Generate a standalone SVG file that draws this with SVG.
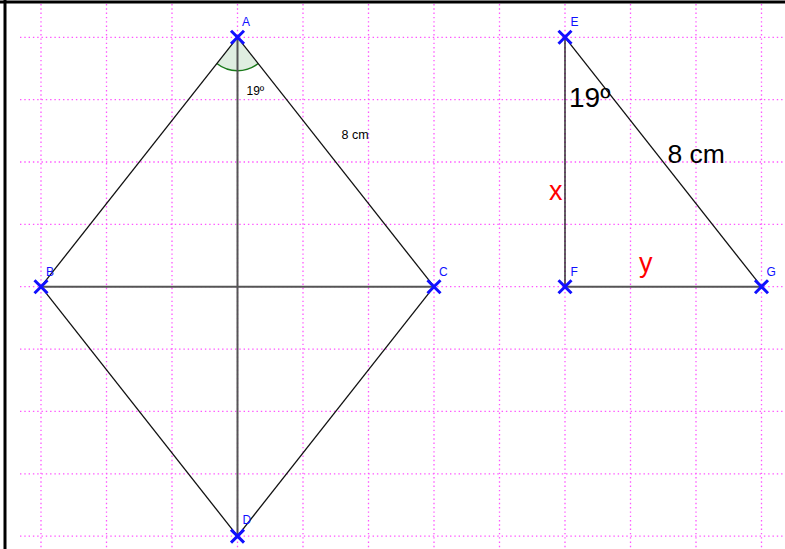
<svg xmlns="http://www.w3.org/2000/svg" width="785" height="549" viewBox="0 0 785 549">
<style>
.g{stroke:#ff55ff;stroke-width:1.3;stroke-dasharray:1.4 2.9;fill:none}
.s{stroke:#111;stroke-width:1.3;fill:none}
.m{stroke:#555;stroke-width:2;fill:none}
.x{stroke:#1010ff;stroke-width:3;fill:none}
.lb{font-family:"Liberation Sans",Arial,sans-serif;font-size:12px;fill:#1010ff}
.t{font-family:"Liberation Sans",Arial,sans-serif;fill:#000}
.r{font-family:"Liberation Sans",Arial,sans-serif;fill:#ff0000;font-size:27px}
</style>
<defs>
<path id="cx" class="x" d="M-6.5,-6.5L6.5,6.5M-6.5,6.5L6.5,-6.5"/>
</defs>
<rect x="0" y="0" width="785" height="549" fill="#fff"/>
<g id="grid">
<path class="g" d="M41,4V549M106.5,4V549M172,4V549M237.5,4V549M303,4V549M368.5,4V549M434,4V549M499.5,4V549M565,4V549M630.5,4V549M696,4V549M761.5,4V549"/>
<path class="g" d="M20,37.3H785M20,99.7H785M20,162H785M20,224.4H785M20,286.7H785M20,349.1H785M20,411.4H785M20,473.8H785M20,536.1H785"/>
</g>
<g id="frame">
<path d="M5,0V549" stroke="#000" stroke-width="3"/>
<path d="M0,2H785" stroke="#000" stroke-width="3"/>
</g>
<g id="angle">
<path d="M237.5,37.3L216.8,63.5A33.4,33.4 0 0 0 258.2,63.5Z" fill="#dfeee0" stroke="none"/>
<path d="M216.8,63.5A33.4,33.4 0 0 0 258.2,63.5" fill="none" stroke="#1a7a1a" stroke-width="1.5"/>
</g>
<g id="connectors">
<path class="s" d="M237.5,37.3L41,286.7"/>
<path class="s" d="M237.5,37.3L434,286.7"/>
<path class="s" d="M41,286.7L237.5,536.1"/>
<path class="s" d="M434,286.7L237.5,536.1"/>
<path class="m" d="M237.5,37.3V536.1"/>
<path class="m" d="M41,286.7H434"/>
<path class="s" d="M565,37.3V286.7"/>
<path class="m" d="M565,286.7H761.5"/>
<path class="s" d="M565,37.3L761.5,286.7"/>
</g>
<g id="A"><use href="#cx" x="237.5" y="37.3"/><text class="lb" x="242" y="26">A</text></g>
<g id="B"><use href="#cx" x="41" y="286.7"/><text class="lb" x="46" y="276">B</text></g>
<g id="C"><use href="#cx" x="434" y="286.7"/><text class="lb" x="439" y="276">C</text></g>
<g id="D"><use href="#cx" x="237.5" y="536.1"/><text class="lb" x="242.5" y="524">D</text></g>
<g id="E"><use href="#cx" x="565" y="37.3"/><text class="lb" x="570.5" y="26">E</text></g>
<g id="F"><use href="#cx" x="565" y="286.7"/><text class="lb" x="570.5" y="276">F</text></g>
<g id="G"><use href="#cx" x="761.5" y="286.7"/><text class="lb" x="766.5" y="276">G</text></g>
<g id="labels">
<text class="t" x="246.5" y="95" font-size="12">19º</text>
<text class="t" x="341.5" y="139" font-size="12.5">8 cm</text>
<text class="t" x="569" y="107" font-size="28">19º</text>
<text class="t" x="667.5" y="162.5" font-size="26.5">8 cm</text>
<text class="r" x="549" y="200">x</text>
<text class="r" x="639" y="272">y</text>
</g>
</svg>
